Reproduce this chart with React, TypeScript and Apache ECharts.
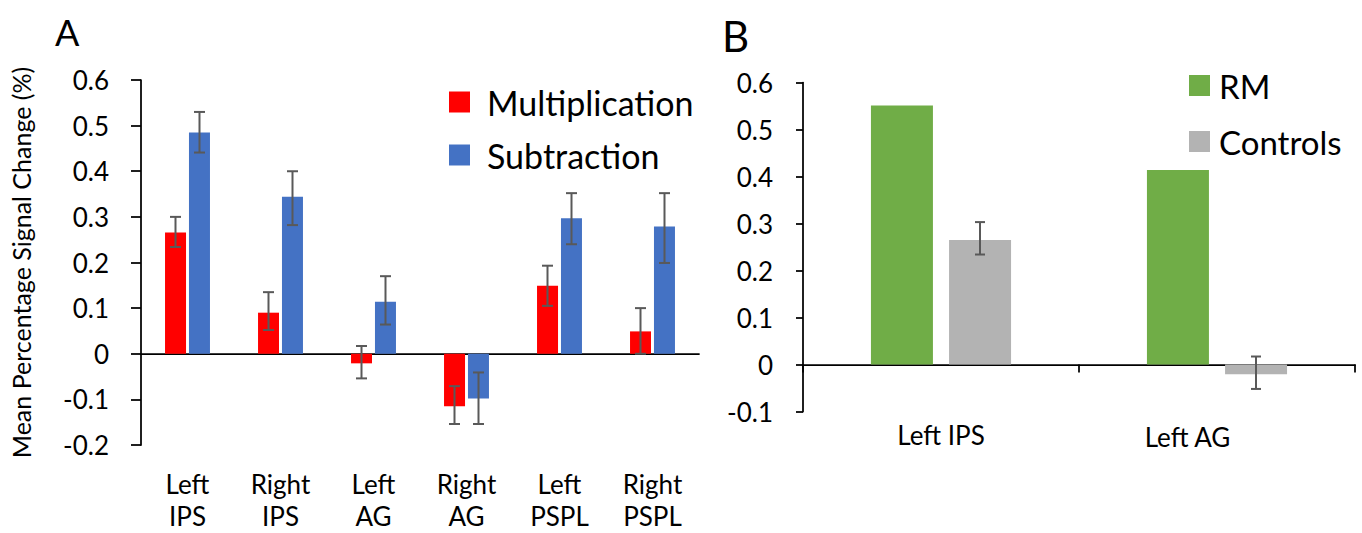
import React, { useEffect, useRef } from "react";
import * as echarts from "echarts";

// Panel A data
const regionsA = ["Left\nIPS", "Right\nIPS", "Left\nAG", "Right\nAG", "Left\nPSPL", "Right\nPSPL"];
const multValues = [0.266, 0.09, -0.021, -0.115, 0.149, 0.049];
const multHigh = [0.3, 0.135, 0.017, -0.071, 0.193, 0.1];
const multLow = [0.234, 0.052, -0.054, -0.154, 0.105, 0.0];
const subValues = [0.485, 0.344, 0.114, -0.098, 0.297, 0.279];
const subHigh = [0.53, 0.4, 0.17, -0.041, 0.352, 0.352];
const subLow = [0.441, 0.282, 0.064, -0.154, 0.24, 0.199];

// Panel B data
const regionsB = ["Left IPS", "Left AG"];
const rmValues = [0.551, 0.414];
const ctrlValues = [0.265, -0.021];
const ctrlHigh = [0.303, 0.017];
const ctrlLow = [0.234, -0.052];

const yTicksA = { min: -0.2, max: 0.6, interval: 0.1 };
const yTicksB = { min: -0.1, max: 0.6, interval: 0.1 };

const FONT = "Lato";
const ERR_COLOR = "#595959";

function errData(low: number[], high: number[]) {
  return low.map((l, i) => [i, l, high[i]]);
}

function errRender(offset: number, capHalf: number) {
  return (params: any, api: any) => {
    const x = api.value(0);
    const lo = api.coord([x, api.value(1)]);
    const hi = api.coord([x, api.value(2)]);
    const cx = lo[0] + offset;
    const style = { stroke: ERR_COLOR, lineWidth: 2 };
    return {
      type: "group",
      children: [
        { type: "line", shape: { x1: cx, y1: hi[1], x2: cx, y2: lo[1] }, style },
        { type: "line", shape: { x1: cx - capHalf, y1: hi[1], x2: cx + capHalf, y2: hi[1] }, style },
        { type: "line", shape: { x1: cx - capHalf, y1: lo[1], x2: cx + capHalf, y2: lo[1] }, style },
      ],
    };
  };
}

const fmt = (v: number) => (Math.abs(v) < 1e-9 ? "0" : v.toFixed(1));

export default function App() {
  const ref = useRef<HTMLDivElement>(null);
  useEffect(() => {
    if (!ref.current) return;
    const chart = echarts.init(ref.current, undefined, { renderer: "svg" });
    const axisLine = { lineStyle: { color: "#000", width: 1.75 } };
    chart.setOption({
      animation: false,
      backgroundColor: "#fff",
      textStyle: { fontFamily: FONT, color: "#000" },
      graphic: [
        { type: "text", style: { text: "A", x: 55, y: 32, font: `36px ${FONT}`, fill: "#000", textVerticalAlign: "middle" } },
        { type: "text", style: { text: "B", x: 722, y: 36, font: `42px ${FONT}`, fill: "#000", textVerticalAlign: "middle" } },
      ],
      legend: [
        {
          data: ["Multiplication", "Subtraction"],
          orient: "vertical",
          left: 444,
          top: 80,
          itemWidth: 21,
          itemHeight: 21,
          itemGap: 19,
          icon: "rect",
          selectedMode: false,
          textStyle: { fontSize: 34, lineHeight: 32, fontFamily: FONT, color: "#000", padding: [0, 0, 0, 12] },
        },
        {
          data: ["RM", "Controls"],
          orient: "vertical",
          left: 1184,
          top: 64,
          itemWidth: 21,
          itemHeight: 21,
          itemGap: 23,
          icon: "rect",
          selectedMode: false,
          textStyle: { fontSize: 33, lineHeight: 32, fontFamily: FONT, color: "#000", padding: [0, 0, 0, 4] },
        },
      ],
      grid: [
        { left: 141, top: 80, width: 558, height: 365, outerBoundsMode: "none", containLabel: false },
        { left: 803, top: 82.5, width: 552, height: 329, outerBoundsMode: "none", containLabel: false },
      ],
      xAxis: [
        {
          type: "category",
          gridIndex: 0,
          data: regionsA,
          position: "top",
          axisLine: { ...axisLine, onZero: true },
          axisTick: { show: false },
          axisLabel: { show: false },
        },
        {
          type: "category",
          gridIndex: 0,
          data: regionsA,
          position: "bottom",
          axisLine: { show: false, onZero: false },
          axisTick: { show: false },
          axisLabel: { fontSize: 26, lineHeight: 32, margin: 23, color: "#000", fontFamily: FONT },
        },
        {
          type: "category",
          gridIndex: 1,
          data: regionsB,
          position: "top",
          axisLine: { ...axisLine, onZero: true },
          axisTick: { show: true, inside: true, length: 8, lineStyle: { color: "#000", width: 1.75 } },
          axisLabel: { show: false },
        },
        {
          type: "category",
          gridIndex: 1,
          data: regionsB,
          position: "bottom",
          axisLine: { show: false, onZero: false },
          axisTick: { show: false },
          axisLabel: {
            margin: 10,
            color: "#000",
            fontFamily: FONT,
            formatter: (v: string) => (v === "Left AG" ? `{b|${v}}` : `{a|${v}}`),
            rich: {
              a: { fontSize: 26, lineHeight: 26, fontFamily: FONT, color: "#000" },
              b: { fontSize: 26, lineHeight: 26, fontFamily: FONT, color: "#000", padding: [5, 59, 0, 0] },
            },
          },
        },
      ],
      yAxis: [
        {
          type: "value",
          gridIndex: 0,
          ...yTicksA,
          name: "Mean Percentage Signal Change (%)",
          nameLocation: "middle",
          nameRotate: 90,
          nameGap: 108,
          nameTextStyle: { fontSize: 25, fontFamily: FONT, color: "#000" },
          axisLine: { show: true, ...axisLine },
          axisTick: { show: true, length: 10, lineStyle: { color: "#000", width: 1.75 } },
          axisLabel: { fontSize: 26, margin: 32, color: "#000", fontFamily: FONT, formatter: fmt },
          splitLine: { show: false },
        },
        {
          type: "value",
          gridIndex: 1,
          ...yTicksB,
          axisLine: { show: true, ...axisLine },
          axisTick: { show: true, length: 7, lineStyle: { color: "#000", width: 1.75 } },
          axisLabel: { fontSize: 26, margin: 30, color: "#000", fontFamily: FONT, formatter: fmt },
          splitLine: { show: false },
        },
      ],
      series: [
        {
          name: "Multiplication",
          type: "bar",
          xAxisIndex: 0,
          yAxisIndex: 0,
          data: multValues,
          barWidth: 21,
          barGap: "14%",
          itemStyle: { color: "#FF0000" },
        },
        {
          name: "Subtraction",
          type: "bar",
          xAxisIndex: 0,
          yAxisIndex: 0,
          data: subValues,
          barWidth: 21,
          barGap: "14%",
          itemStyle: { color: "#4472C4" },
        },
        {
          name: "errMult",
          type: "custom",
          xAxisIndex: 0,
          yAxisIndex: 0,
          data: errData(multLow, multHigh),
          encode: { x: 0, y: [1, 2] },
          renderItem: errRender(-12, 5.5),
          z: 5,
        },
        {
          name: "errSub",
          type: "custom",
          xAxisIndex: 0,
          yAxisIndex: 0,
          data: errData(subLow, subHigh),
          encode: { x: 0, y: [1, 2] },
          renderItem: errRender(12, 5.5),
          z: 5,
        },
        {
          name: "RM",
          type: "bar",
          xAxisIndex: 2,
          yAxisIndex: 1,
          data: rmValues,
          barWidth: 62,
          barGap: "26%",
          itemStyle: { color: "#70AD47" },
        },
        {
          name: "Controls",
          type: "bar",
          xAxisIndex: 2,
          yAxisIndex: 1,
          data: ctrlValues,
          barWidth: 62,
          barGap: "26%",
          itemStyle: { color: "#B3B3B3" },
        },
        {
          name: "errCtrl",
          type: "custom",
          xAxisIndex: 2,
          yAxisIndex: 1,
          data: errData(ctrlLow, ctrlHigh),
          encode: { x: 0, y: [1, 2] },
          renderItem: errRender(39, 5),
          z: 5,
        },
      ],
    });
    return () => chart.dispose();
  }, []);
  return (
    <div
      ref={ref}
      style={{ position: "fixed", left: 0, top: 0, width: 1362, height: 533, background: "#fff" }}
    />
  );
}
